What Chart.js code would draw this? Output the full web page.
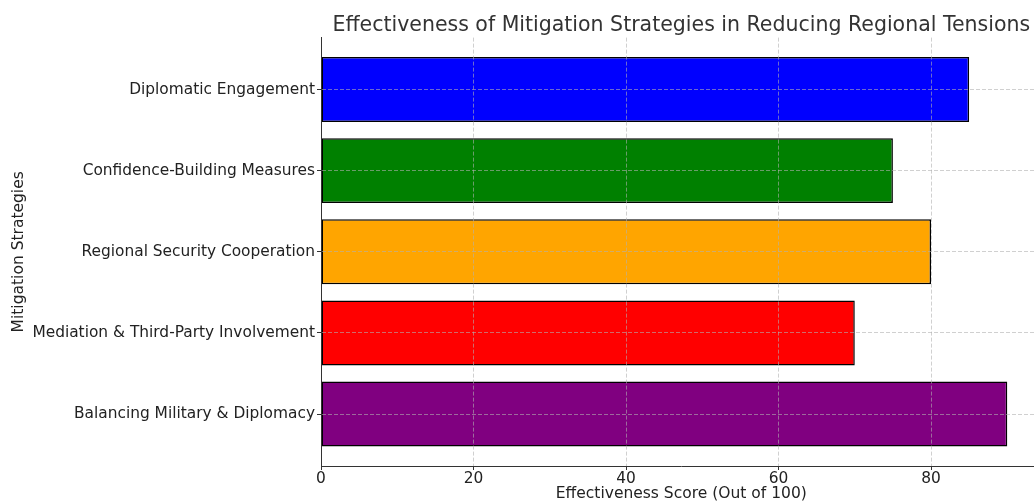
<!DOCTYPE html>
<html>
<head>
<meta charset="utf-8">
<script src="https://cdn.jsdelivr.net/npm/chart.js@4/dist/chart.umd.min.js"></script>
<style>
  html, body { margin: 0; padding: 0; background: #fff; overflow: hidden; }
  #wrap { width: 1060px; height: 504px; }
</style>
</head>
<body>
<div id="wrap"><canvas id="strategyChart" width="1060" height="504"></canvas></div>
<script>
// chart data
const strategies = [
    'Diplomatic Engagement',
    'Confidence-Building Measures',
    'Regional Security Cooperation',
    'Mediation & Third-Party Involvement',
    'Balancing Military & Diplomacy'
];
const scores = [85, 75, 80, 70, 90];
const barColors = ['#0000ff', '#008000', '#ffa500', '#ff0000', '#800080'];
const xTicks = [0, 20, 40, 60, 80];

Chart.defaults.font.family = '"DejaVu Sans", sans-serif';
Chart.defaults.color = '#262626';

const gridColor = 'rgba(176, 176, 176, 0.6)';

const ctx = document.getElementById('strategyChart').getContext('2d');

new Chart(ctx, {
    type: 'bar',
    data: {
        datasets: [{
            label: 'Effectiveness Score',
            data: scores.map((v, i) => ({ x: v, y: i })),
            backgroundColor: barColors,
            borderColor: '#000',
            borderWidth: 1.5,
            borderSkipped: false,
            barPercentage: 0.8,
            categoryPercentage: 1
        }]
    },
    options: {
        indexAxis: 'y',
        responsive: false,
        animation: false,
        layout: { padding: { left: 0, right: 18.4, top: 0, bottom: 0 } },
        plugins: {
            legend: { display: false },
            tooltip: { enabled: false },
            title: {
                display: true,
                text: 'Effectiveness of Mitigation Strategies in Reducing Regional Tensions',
                fullSize: false,
                font: { size: 20.5, weight: 'normal' },
                color: '#333',
                padding: { top: 13, bottom: 0 }
            }
        },
        scales: {
            x: {
                type: 'linear',
                min: 0,
                max: 94.5,
                afterBuildTicks: (scale) => {
                    scale.ticks = xTicks.map(v => ({ value: v }));
                },
                afterFit: (scale) => { scale.height = 38; },
                ticks: { font: { size: 15.4 }, color: '#222', padding: 0, maxRotation: 0 },
                grid: {
                    z: 1,
                    color: gridColor,
                    tickColor: '#333',
                    tickLength: 4,
                    tickBorderDash: []
                },
                border: { display: true, z: 1, color: '#333', width: 1, dash: [4, 2] },
                title: {
                    display: true,
                    text: 'Effectiveness Score (Out of 100)',
                    font: { size: 15.5 },
                    color: '#222',
                    padding: { top: 0, bottom: 1 }
                }
            },
            y: {
                type: 'linear',
                min: -0.64,
                max: 4.64,
                reverse: true,
                offset: false,
                afterBuildTicks: (scale) => {
                    scale.ticks = strategies.map((_, i) => ({ value: i }));
                },
                afterFit: (scale) => { scale.width = 321; },
                ticks: {
                    font: { size: 15.4 },
                    color: '#222',
                    padding: 2,
                    callback: (value) => strategies[value]
                },
                grid: {
                    z: 1,
                    offset: false,
                    color: gridColor,
                    tickColor: '#333',
                    tickLength: 4,
                    tickBorderDash: []
                },
                border: { display: true, z: 1, color: '#333', width: 1, dash: [4, 2] },
                title: {
                    display: true,
                    text: 'Mitigation Strategies',
                    font: { size: 15.5 },
                    color: '#222',
                    padding: { top: 9.5, bottom: 0 }
                }
            }
        }
    }
});
</script>
</body>
</html>
